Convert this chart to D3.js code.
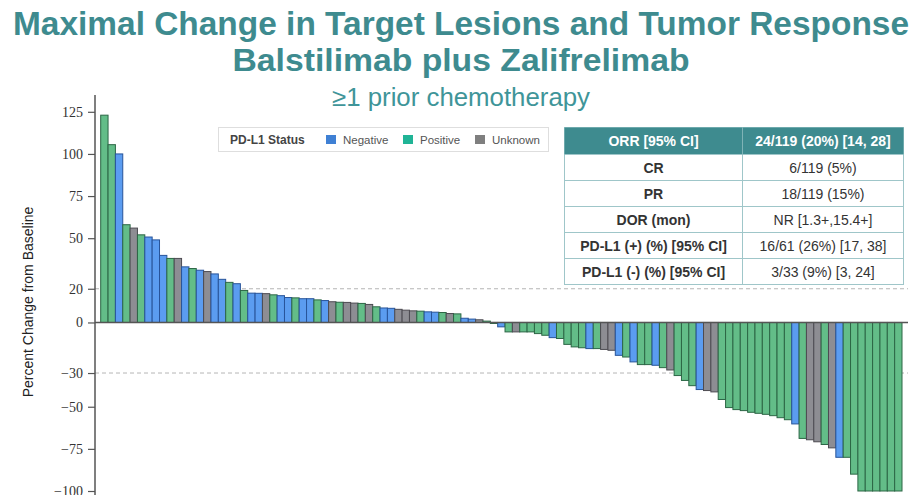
<!DOCTYPE html>
<html>
<head>
<meta charset="utf-8">
<script src="https://cdn.jsdelivr.net/npm/d3@7"></script>
<style>
  html, body { margin: 0; padding: 0; background: #fff; }
  svg { display: block; }
</style>
</head>
<body>
<svg id="chart" width="922" height="495"></svg>
<script>
// ---------------- DATA ----------------
const titleLines = ["Maximal Change in Target Lesions and Tumor Response", "Balstilimab plus Zalifrelimab"];
const subtitle = "\u22651 prior chemotherapy";
const yLabel = "Percent Change from Baseline";
const yTicks = [125, 100, 75, 50, 20, 0, -30, -50, -75, -100];
const refLines = [20, -30];

const pctChange = [
  123, 105.5, 100, 58, 56, 52, 50.7, 49, 39.8, 38,
  38, 33, 32, 31, 30.2, 28.8, 25.6, 23.8, 23, 19,
  17.4, 17.3, 17.1, 16.4, 15.9, 14.8, 14.6, 14.1, 14.1, 13.4,
  13, 12.3, 12, 11.9, 11.5, 11.3, 10.7, 9.3, 8.6, 8.4,
  7.8, 7.3, 6.9, 6.7, 6.3, 6.1, 5.9, 5.3, 5.1, 2.5,
  2.0, 1.6, 0.8, -0.6, -2.6, -5.6, -5.6, -5.6, -5.6, -6.6,
  -7.6, -9, -9.5, -13, -14.5, -15, -15.5, -15.5, -16, -16.5,
  -19.5, -20.5, -23.4, -25, -25, -25.4, -26.8, -28.2, -31.5, -34.4,
  -37.5, -39.8, -40.4, -41.2, -45.7, -50.5, -51.7, -52.3, -53.3, -53.9,
  -54.5, -55.3, -56.5, -57.7, -60.2, -68.8, -69.6, -70.8, -72.4, -74.4,
  -80, -80, -90, -100, -100, -100, -100, -100, -100
];
const pdl1Status = [
  "P","P","N","P","U","P","N","N","N","P",
  "U","N","P","N","U","N","N","P","N","P",
  "N","N","U","P","N","N","P","N","N","P",
  "N","U","P","U","U","P","U","P","N","N",
  "U","U","U","P","N","N","P","U","P","N",
  "N","U","P","P","N","P","U","P","P","P",
  "P","N","P","P","P","P","N","P","U","U",
  "N","P","N","P","P","N","P","U","P","P",
  "P","N","U","U","P","P","P","P","P","P",
  "P","P","P","P","N","P","U","U","P","U",
  "N","P","P","P","P","P","P","P","P"
];
const legendTitle = "PD-L1 Status";
const legendKeys = ["N", "P", "U"];
const legendNames = ["Negative", "Positive", "Unknown"];

const tableLabels = ["ORR [95% CI]", "CR", "PR", "DOR (mon)", "PD-L1 (+) (%) [95% CI]", "PD-L1 (-) (%) [95% CI]"];
const tableValues = ["24/119 (20%) [14, 28]", "6/119 (5%)", "18/119 (15%)", "NR [1.3+,15.4+]", "16/61 (26%) [17, 38]", "3/33 (9%) [3, 24]"];

// ---------------- STYLE ----------------
const teal = "#3e8b8f";
const barFill = { N: "#5b9cf0", P: "#63bd88", U: "#8d8d93" };
const barStroke = { N: "#28549a", P: "#2c6645", U: "#4d4b52" };
const legendFill = { N: "#3f80d4", P: "#20b496", U: "#7f7f7f" };

const svg = d3.select("#chart");

// Titles
svg.append("text").attr("x", 461).attr("y", 35).attr("text-anchor", "middle")
  .attr("font-family", "Liberation Sans, Arial, sans-serif").attr("font-weight", "bold")
  .attr("font-size", 32.5).attr("fill", teal).text(titleLines[0])
  .attr("textLength", 896).attr("lengthAdjust", "spacingAndGlyphs");
svg.append("text").attr("x", 461).attr("y", 71).attr("text-anchor", "middle")
  .attr("font-family", "Liberation Sans, Arial, sans-serif").attr("font-weight", "bold")
  .attr("font-size", 31).attr("fill", teal).text(titleLines[1])
  .attr("textLength", 457).attr("lengthAdjust", "spacingAndGlyphs");
svg.append("text").attr("x", 461).attr("y", 106).attr("text-anchor", "middle")
  .attr("font-family", "Liberation Sans, Arial, sans-serif")
  .attr("font-size", 25).attr("fill", "#3f9599").text(subtitle)
  .attr("textLength", 258).attr("lengthAdjust", "spacingAndGlyphs");

// Scales
const x = d3.scaleBand().domain(d3.range(pctChange.length)).range([100.7, 902]).padding(0);
const y = d3.scaleLinear().domain([-100, 125]).range([491, 111.8]);

const axisX = 95;

// Reference dashed lines
svg.append("g").selectAll("line").data(refLines).join("line")
  .attr("x1", axisX).attr("x2", 908)
  .attr("y1", d => y(d)).attr("y2", d => y(d))
  .attr("stroke", "#b5b5b5").attr("stroke-width", 1).attr("stroke-dasharray", "4,3");

// Bars
svg.append("g").selectAll("rect").data(pctChange).join("rect")
  .attr("x", (d, i) => x(i))
  .attr("width", x.bandwidth())
  .attr("y", d => y(Math.max(0, d)))
  .attr("height", d => Math.abs(y(d) - y(0)))
  .attr("fill", (d, i) => barFill[pdl1Status[i]])
  .attr("stroke", (d, i) => barStroke[pdl1Status[i]])
  .attr("stroke-width", 1);

// Zero line
svg.append("line").attr("x1", axisX).attr("x2", 908).attr("y1", y(0)).attr("y2", y(0))
  .attr("stroke", "#555").attr("stroke-width", 1.5);

// Y axis
const yAxis = d3.axisLeft(y).tickValues(yTicks).tickSize(7).tickPadding(5).tickFormat(d3.format("d"));
const gy = svg.append("g").attr("transform", `translate(${axisX},0)`).call(yAxis);
gy.select(".domain").remove();
gy.selectAll(".tick line").attr("stroke", "#555").attr("stroke-width", 1.2);
gy.selectAll(".tick text").attr("font-family", "Liberation Serif, Times New Roman, serif")
  .attr("font-size", 14).attr("fill", "#333");
svg.append("line").attr("x1", axisX).attr("x2", axisX).attr("y1", 95).attr("y2", 495)
  .attr("stroke", "#555").attr("stroke-width", 1.5);

// Y label
svg.append("text").attr("transform", "translate(33,302) rotate(-90)").attr("text-anchor", "middle")
  .attr("font-family", "Liberation Sans, Arial, sans-serif").attr("font-size", 14).attr("fill", "#222")
  .text(yLabel);

// Legend
const lg = svg.append("g");
lg.append("rect").attr("x", 218.5).attr("y", 127.5).attr("width", 330).attr("height", 24)
  .attr("fill", "#fff").attr("stroke", "#dedede");
lg.append("text").attr("x", 230).attr("y", 144).attr("font-family", "Liberation Sans, Arial, sans-serif")
  .attr("font-weight", "bold").attr("font-size", 12).attr("fill", "#444").text(legendTitle);
const legendX = [326, 403, 475];
legendKeys.forEach((k, i) => {
  lg.append("rect").attr("x", legendX[i]).attr("y", 135).attr("width", 10).attr("height", 9)
    .attr("fill", legendFill[k]);
  lg.append("text").attr("x", legendX[i] + 17).attr("y", 144)
    .attr("font-family", "Liberation Sans, Arial, sans-serif").attr("font-size", 11.5)
    .attr("fill", "#555").text(legendNames[i]);
});

// Table
const tbl = svg.append("g");
const tx0 = 564.5, tx1 = 742.5, tx2 = 903.5;
const rowY = [127.5, 154.5, 180.5, 206.5, 232.5, 258.5, 284.5];
tbl.append("rect").attr("x", tx0).attr("y", rowY[0]).attr("width", tx2 - tx0).attr("height", rowY[6] - rowY[0])
  .attr("fill", "#fff").attr("stroke", "#9fc6c9");
tbl.append("rect").attr("x", tx0).attr("y", rowY[0]).attr("width", tx2 - tx0).attr("height", rowY[1] - rowY[0])
  .attr("fill", teal);
tableLabels.forEach((lab, i) => {
  if (i > 0) {
    tbl.append("line").attr("x1", tx0).attr("x2", tx2).attr("y1", rowY[i]).attr("y2", rowY[i])
      .attr("stroke", "#9fc6c9");
  }
  const cy = (rowY[i] + rowY[i + 1]) / 2 + 5;
  const hdr = i === 0;
  tbl.append("text").attr("x", (tx0 + tx1) / 2).attr("y", cy).attr("text-anchor", "middle")
    .attr("font-family", "Liberation Sans, Arial, sans-serif").attr("font-weight", "bold")
    .attr("font-size", 14).attr("fill", hdr ? "#fff" : "#333").text(lab);
  tbl.append("text").attr("x", (tx1 + tx2) / 2).attr("y", cy).attr("text-anchor", "middle")
    .attr("font-family", "Liberation Sans, Arial, sans-serif").attr("font-weight", hdr ? "bold" : "normal")
    .attr("font-size", 14).attr("fill", hdr ? "#fff" : "#333").text(tableValues[i]);
});
tbl.append("line").attr("x1", tx1).attr("x2", tx1).attr("y1", rowY[0]).attr("y2", rowY[6])
  .attr("stroke", "#9fc6c9");
tbl.append("line").attr("x1", tx1).attr("x2", tx1).attr("y1", rowY[0]).attr("y2", rowY[1])
  .attr("stroke", "#7fb3b6");
</script>
</body>
</html>
